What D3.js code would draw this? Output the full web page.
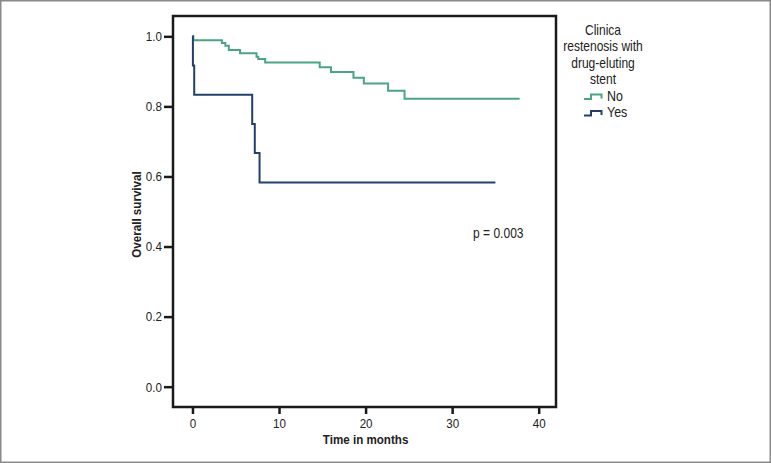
<!DOCTYPE html>
<html>
<head>
<meta charset="utf-8">
<script src="https://cdn.jsdelivr.net/npm/d3@7"></script>
<style>
  html, body { margin: 0; padding: 0; background: #fff; }
  svg { display: block; }
  text { font-family: "Liberation Sans", Arial, sans-serif; fill: #222; }
</style>
</head>
<body>
<svg id="chart" width="771" height="463"></svg>
<script>
// ---- data ----
const xTicks = [0, 10, 20, 30, 40];
const yTicks = [0.0, 0.2, 0.4, 0.6, 0.8, 1.0];
const groups = ["No", "Yes"];
const noTimes  = [0, 0.1, 3.4, 3.8, 4.2, 5.5, 7.4, 7.6, 8.4, 14.7, 16.0, 18.6, 19.8, 22.6, 24.5, 37.8];
const noSurv   = [1.0, 0.989, 0.981, 0.973, 0.961, 0.952, 0.942, 0.935, 0.925, 0.912, 0.898, 0.882, 0.865, 0.845, 0.822, 0.822];
const yesTimes = [0, 0.05, 0.2, 6.9, 7.2, 7.75, 35.0];
const yesSurv  = [1.0, 0.917, 0.833, 0.75, 0.667, 0.583, 0.583];
const legendTitle = ["Clinica", "restenosis with", "drug-eluting", "stent"];
const pText = "p = 0.003";
const colors = { No: "#4aa583", Yes: "#22406b" };

// ---- layout ----
const SX = 0.86;   // horizontal condensing to mimic narrow font
const FS = 13.5;
const svg = d3.select("#chart");
const box = { left: 173, right: 556, top: 16, bottom: 407 };
const x = d3.scaleLinear().domain([-2.25, 42.0]).range([box.left, box.right]);
const y = d3.scaleLinear().domain([-0.058, 1.058]).range([box.bottom, box.top]);

function label(parent, px, py, str, opts = {}) {
  const t = parent.append("text")
    .attr("transform", `translate(${px},${py})${opts.rotate ? ` rotate(${opts.rotate})` : ""} scale(${SX},1)`)
    .attr("font-size", opts.size || FS)
    .attr("text-anchor", opts.anchor || "start")
    .text(str);
  if (opts.bold) t.attr("font-weight", "bold");
  return t;
}

// outer frame
svg.append("rect").attr("x", 0.75).attr("y", 0.75).attr("width", 769.5).attr("height", 461.5)
  .attr("fill", "none").attr("stroke", "#8a8a8a").attr("stroke-width", 1.5);

// axes
const xAxis = d3.axisBottom(x).tickValues(xTicks).tickFormat(d3.format("d")).tickSize(7).tickPadding(4);
const gx = svg.append("g").attr("transform", `translate(0,${box.bottom})`).call(xAxis);
gx.select(".domain").remove();
gx.selectAll(".tick line").attr("stroke", "#1a1a1a").attr("stroke-width", 2.5);
gx.selectAll(".tick text").attr("font-size", FS).attr("fill", "#222")
  .style("font-family", "'Liberation Sans', Arial, sans-serif")
  .attr("transform", `scale(${SX},1)`);

const yAxis = d3.axisLeft(y).tickValues(yTicks).tickFormat(d3.format(".1f")).tickSize(9).tickPadding(2);
const gy = svg.append("g").attr("transform", `translate(${box.left},0)`).call(yAxis);
gy.select(".domain").remove();
gy.selectAll(".tick line").attr("stroke", "#1a1a1a").attr("stroke-width", 2.5);
gy.selectAll(".tick text").attr("font-size", FS).attr("fill", "#222")
  .style("font-family", "'Liberation Sans', Arial, sans-serif")
  .attr("x", -11 / SX)
  .attr("transform", `scale(${SX},1)`);

// plot box
svg.append("rect").attr("x", box.left).attr("y", box.top)
  .attr("width", box.right - box.left).attr("height", box.bottom - box.top)
  .attr("fill", "none").attr("stroke", "#1a1a1a").attr("stroke-width", 2.5);

// curves
const line = d3.line().x(d => x(d[0])).y(d => y(d[1])).curve(d3.curveStepAfter);
const series = [
  { key: "No", pts: noTimes.map((t, i) => [t, noSurv[i]]) },
  { key: "Yes", pts: yesTimes.map((t, i) => [t, yesSurv[i]]) }
];
svg.append("g").selectAll("path").data(series).join("path")
  .attr("d", d => line(d.pts))
  .attr("fill", "none")
  .attr("stroke", d => colors[d.key])
  .attr("stroke-width", 2);

// axis titles
label(svg, (x(0) + x(40)) / 2, 444, "Time in months", { anchor: "middle", bold: true });
label(svg, 141, (box.top + box.bottom) / 2 + 3, "Overall survival", { anchor: "middle", bold: true, rotate: -90 });

// p value
label(svg, 473, 238, pText, { size: 14 });

// legend
const lg = svg.append("g");
legendTitle.forEach((s, i) => label(lg, 603, 34.5 + i * 16.5, s, { anchor: "middle", size: 14 }));
groups.forEach((g, i) => {
  const yy = 100.5 + i * 16.5;
  lg.append("path")
    .attr("d", d3.line()([[584, yy - 1.5], [591, yy - 1.5], [591, yy - 6], [601.5, yy - 6], [601.5, yy - 2]]))
    .attr("fill", "none").attr("stroke", colors[g]).attr("stroke-width", 2);
  label(lg, 607, yy, g, { size: 14.5 });
});
</script>
</body>
</html>
